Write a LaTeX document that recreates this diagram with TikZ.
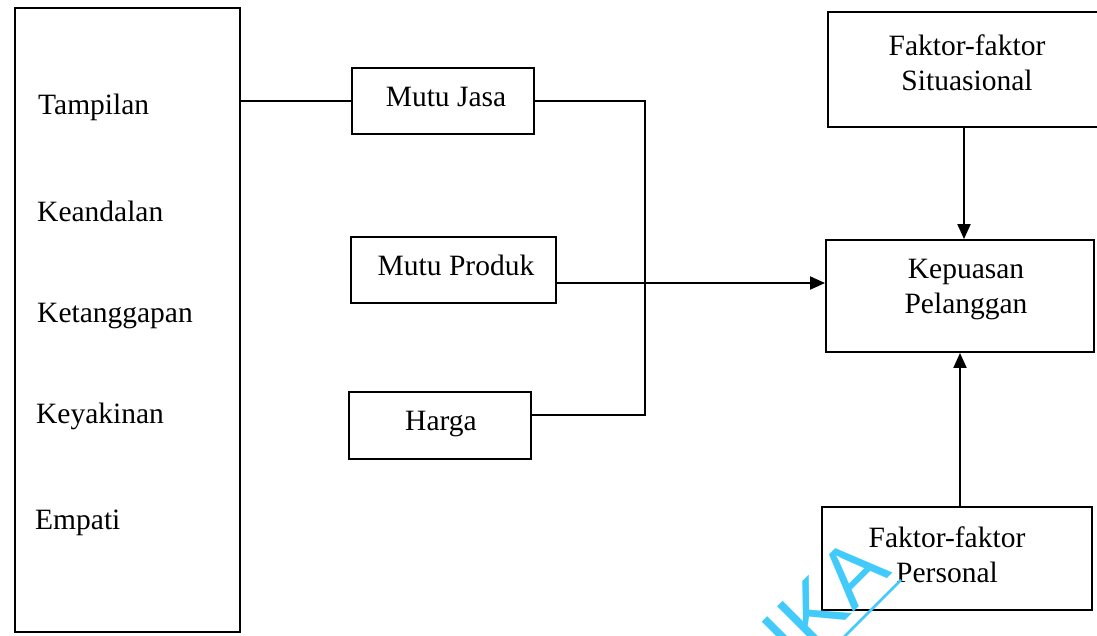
\documentclass[tikz,border=0pt]{standalone}
\usepackage{fontspec}
\setmainfont{Liberation Serif}
\newfontfamily\wmfont{Liberation Sans}
\usetikzlibrary{arrows.meta}
\definecolor{wmblue}{RGB}{66,203,250}
\begin{document}
\begin{tikzpicture}[x=1pt,y=-1pt,
  box/.style={draw, line width=1.9pt, inner sep=0pt},
  lbl/.style={font=\fontsize{29.5}{35}\selectfont, inner sep=0pt, text height=20pt, text depth=6.5pt},
  lbltwo/.style={font=\fontsize{29.5}{35}\selectfont, align=center, inner sep=0pt},
  flow/.style={line width=1.9pt},
  tip/.style={-{Triangle[length=15pt,width=13pt]}}]
\useasboundingbox (0,0) rectangle (1097,635);

% service quality dimensions
\node[box, minimum width=225pt, minimum height=624pt] (dim) at (127.5,320) {};
\node[lbl, anchor=west] (d1) at (38,108) {Tampilan};
\node[lbl, anchor=west] (d2) at (37,215) {Keandalan};
\node[lbl, anchor=west] (d3) at (37,316) {Ketanggapan};
\node[lbl, anchor=west] (d4) at (36,417) {Keyakinan};
\node[lbl, anchor=west] (d5) at (35,523) {Empati};

% middle column
\node[box, minimum width=182pt, minimum height=66pt] (jasa) at (443,101) {};
\node[lbl] (jasat) at (446,100) {Mutu Jasa};
\node[box, minimum width=205pt, minimum height=66pt] (produk) at (453.5,270) {};
\node[lbl] (produkt) at (456,269) {Mutu Produk};
\node[box, minimum width=182pt, minimum height=67pt] (harga) at (440,425.5) {};
\node[lbl] (hargat) at (441,424) {Harga};

% right column
\node[box, minimum width=272pt, minimum height=115pt] (sit) at (964,69.5) {};
\node[lbltwo] (sitt) at (967,63) {Faktor-faktor\\Situasional};
\node[box, minimum width=268pt, minimum height=112pt] (kep) at (960,296) {};
\node[lbltwo] (kept) at (966,290) {Kepuasan\\Pelanggan};
\node[box, minimum width=270pt, minimum height=103pt] (pers) at (957,558.5) {};
\node[lbltwo] (perst) at (947,555) {Faktor-faktor\\Personal};

% connectors
\draw[flow] (jasa.west -| dim.east) -- (jasa.west);
\coordinate (bus) at (645,283);
\draw[flow] (jasa.east) -| (bus) |- ([yshift=10.5pt]harga.east);
\draw[flow,tip] ([yshift=-13pt]produk.east) coordinate (pa) -- (pa -| kep.west);
\draw[flow,tip] (sit.south) -- (sit.south |- kep.north);
\draw[flow,tip] ([xshift=3pt]pers.north) coordinate (pb) -- (pb |- kep.south);

% library stamp
\node[font=\wmfont\fontsize{84}{84}\selectfont, text=wmblue, inner sep=0pt,
      rotate=45, anchor=base east] (wm) at (893,573) {IKA};
\coordinate (wmend) at (820,661);
\draw[wmblue, line width=2.6pt] (901,580) -- (wmend);
\end{tikzpicture}
\end{document}
